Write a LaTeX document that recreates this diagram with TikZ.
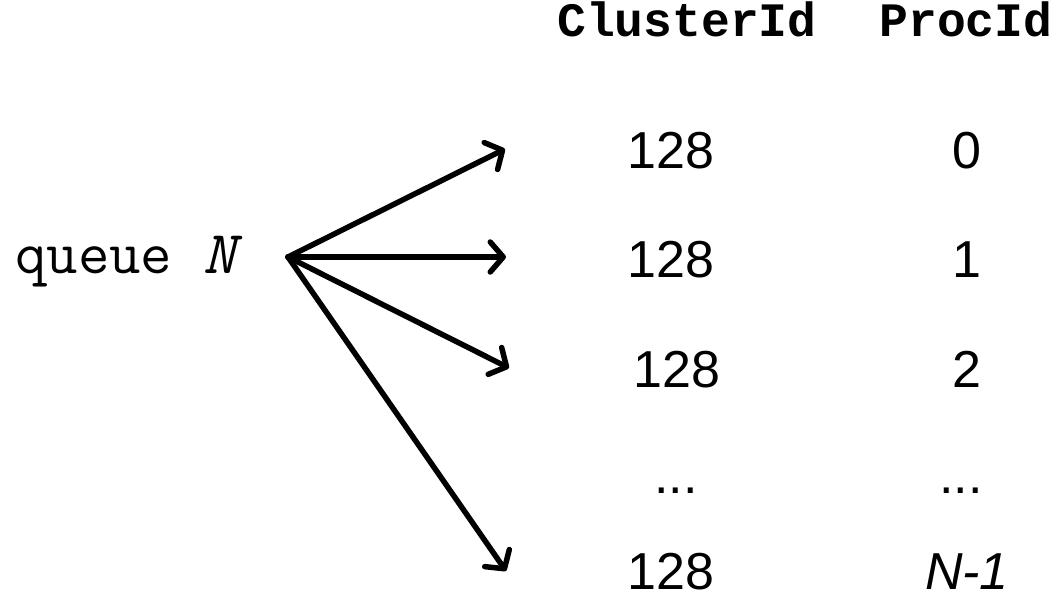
\documentclass[tikz,border=0pt]{standalone}
\usepackage{fontspec}
\setmainfont{Liberation Sans}
\newfontfamily\cour{Liberation Mono}
\usetikzlibrary{arrows.meta}
\begin{document}
\begin{tikzpicture}[x=1pt,y=-1pt,
  hdr/.style={anchor=base,inner sep=0pt,font=\cour\bfseries\fontsize{48}{48}\selectfont},
  num/.style={anchor=base,inner sep=0pt,font=\fontsize{52}{52}\selectfont},
  lbl/.style={anchor=base west,inner sep=0pt,font=\ttfamily\fontsize{61}{61}\selectfont},
  arr/.style={line width=5.5pt,line cap=round,line join=round,
    -{Straight Barb[length=13pt,width=30pt,line cap=round,line join=round]}}]
\useasboundingbox (0,0) rectangle (1054,596);
\node[hdr] (h1) at (687,37) {ClusterId};
\node[hdr] (h2) at (966,37) {ProcId};
\node[lbl] (q) at (15,273) {queue \textit{N}};
\node[num] (c0) at (671,169) {128};
\node[num] (p0) at (967,169) {0};
\node[num] (c1) at (671,277) {128};
\node[num] (p1) at (967,277) {1};
\node[num] (c2) at (677,387) {128};
\node[num] (p2) at (967,387) {2};
\node[num] (c3) at (676,493) {...};
\node[num] (p3) at (961,493) {...};
\node[num] (c4) at (671,589) {128};
\node[num] (p4) at (967,589) {\textit{N-1}};
\coordinate (s) at (288,257);
\coordinate (t0) at (505,149);
\coordinate (t1) at (506,257);
\coordinate (t2) at (509,368);
\coordinate (t3) at (506,571);
\draw[arr] (s) -- (t0);
\draw[arr] (s) -- (t1);
\draw[arr] (s) -- (t2);
\draw[arr] (s) -- (t3);
\end{tikzpicture}
\end{document}
